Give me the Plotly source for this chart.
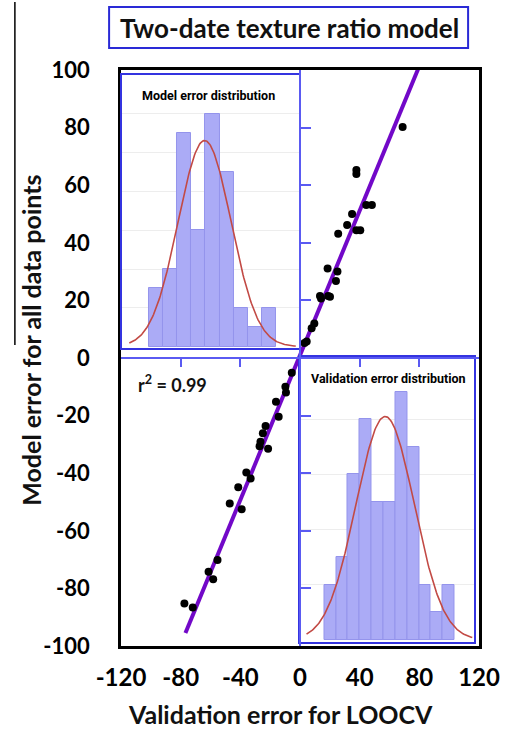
import numpy as np
import plotly.graph_objects as go

# ---------------- data ----------------
val_err = [68.8, 37.8, 37.8, 44.4, 48.2, 34.9, 31.6, 37.8, 40.4, 25.6, 18.5, 25.1, 24.1,
           13.4, 18.9, 20.1, 14.1, 9.6, 7.8, 4.5, 3.0,
           -5.5, -9.8, -9.4, -16.1, -14.3, -23.1, -24.9, -26.5, -27.1, -21.4, -36.0, -33.1,
           -41.4, -47.1, -39.1, -55.3, -61.3, -58.2, -77.5, -71.9]
model_err = [80.2, 65.3, 63.9, 53.1, 53.1, 50.0, 46.2, 44.4, 44.4, 43.1, 31.1, 30.0, 26.7,
             21.5, 21.5, 21.3, 20.7, 12.0, 10.3, 5.7, 5.2,
             -5.1, -10.0, -12.0, -15.2, -20.4, -23.6, -26.1, -29.1, -30.6, -31.5, -39.8, -41.8,
             -44.9, -50.5, -52.5, -70.1, -74.2, -76.8, -85.2, -86.6]
fit_x = [-76.8, 79.3]
fit_y = [-95.5, 100.5]
r2_text = "r<sup>2</sup> = 0.99"

model_bins = [0.5, 1.5, 2.5, 3.5, 4.5, 5.5, 6.5, 7.5, 8.5]
model_counts = [3, 4, 11, 6, 12, 9, 2, 1, 2]
valid_bins = [0.5, 1.5, 2.5, 3.5, 4.5, 5.5, 6.5, 7.5, 8.5, 9.5, 10.5]
valid_counts = [2, 3, 6, 8, 5, 5, 9, 7, 2, 1, 2]

x_ticks = [-120, -80, -40, 0, 40, 80, 120]
x_tick_labels = ["-120", "-80", "-40", "0", "40", "80", "120"]
y_ticks = [-100, -80, -60, -40, -20, 0, 20, 40, 60, 80, 100]
y_tick_labels = ["-100", "-80", "-60", "-40", "-20", "0", "20", "40", "60", "80", "100"]


def normal_fit(centers, counts, lo, hi):
    c = np.array(centers, float)
    n = np.array(counts, float)
    tot = n.sum()
    mu = (c * n).sum() / tot
    sd = np.sqrt(((c - mu) ** 2 * n).sum() / tot)
    xs = np.linspace(lo, hi, 200)
    ys = tot / (sd * np.sqrt(2 * np.pi)) * np.exp(-0.5 * ((xs - mu) / sd) ** 2)
    return xs, ys


# ---------------- geometry helpers ----------------
W, H = 512, 729
L, R, T, B = 121, 30, 70, 83
PW, PH = W - L - R, H - T - B


def fx(px):
    return (px - L) / PW


def fy(py):
    return (H - B - py) / PH


BLUE = "#3434e0"
AXBLUE = "#5a5af2"
BAR_FILL = "#ababf6"
BAR_LINE = "#9494ec"
RED = "#c24a45"
FONT = "Lato, 'Open Sans', sans-serif"
NARROW = "Roboto, 'Liberation Sans', sans-serif"

fig = go.Figure()

# main scatter + fit line
fig.add_trace(go.Scatter(x=fit_x, y=fit_y, mode="lines",
                         line=dict(color="#7208c8", width=4), xaxis="x", yaxis="y",
                         showlegend=False, hoverinfo="skip"))
fig.add_trace(go.Scatter(x=val_err, y=model_err, mode="markers",
                         marker=dict(color="black", size=8), xaxis="x", yaxis="y",
                         showlegend=False))

# inset 1: model error distribution
cx, cy = normal_fit(model_bins, model_counts, -1.4, 10.4)
fig.add_trace(go.Bar(x=model_bins, y=model_counts, width=1.0,
                     marker=dict(color=BAR_FILL, line=dict(color=BAR_LINE, width=1)),
                     xaxis="x2", yaxis="y2", showlegend=False))
fig.add_trace(go.Scatter(x=cx, y=cy, mode="lines", line=dict(color=RED, width=1.6),
                         xaxis="x2", yaxis="y2", showlegend=False, hoverinfo="skip"))

# inset 2: validation error distribution
vx, vy = normal_fit(valid_bins, valid_counts, -1.5, 12.5)
fig.add_trace(go.Bar(x=valid_bins, y=valid_counts, width=1.0,
                     marker=dict(color=BAR_FILL, line=dict(color=BAR_LINE, width=1)),
                     xaxis="x3", yaxis="y3", showlegend=False))
fig.add_trace(go.Scatter(x=vx, y=vy, mode="lines", line=dict(color=RED, width=1.6),
                         xaxis="x3", yaxis="y3", showlegend=False, hoverinfo="skip"))

# crossing axes carrier (invisible)
fig.add_trace(go.Scatter(x=[0], y=[0], mode="markers", marker=dict(opacity=0),
                         xaxis="x4", yaxis="y4", showlegend=False, hoverinfo="skip"))

fig.update_layout(
    width=W, height=H,
    margin=dict(l=L, r=R, t=T, b=B),
    paper_bgcolor="white",
    plot_bgcolor="rgba(0,0,0,0)",
    bargap=0,
    xaxis=dict(domain=[0, 1], range=[-120, 120], showline=True, mirror=True,
               linecolor="black", linewidth=2.5, ticks="", showgrid=False, zeroline=False,
               tickvals=x_ticks, ticktext=x_tick_labels,
               tickfont=dict(family=FONT, size=24, color="black", weight="bold"),
               ticklabelstandoff=8),
    yaxis=dict(domain=[0, 1], range=[-100, 100], showline=True, mirror=True,
               linecolor="black", linewidth=2.5, ticks="", showgrid=False, zeroline=False,
               tickvals=y_ticks, ticktext=y_tick_labels,
               tickfont=dict(family=FONT, size=22, color="black", weight="bold"),
               ticklabelstandoff=24),
    xaxis2=dict(domain=[fx(122), fx(300)], anchor="y2", range=[-1.92, 10.6],
                showline=True, mirror=True, linecolor=BLUE, linewidth=2.2,
                showticklabels=False, ticks="", showgrid=False, zeroline=False),
    yaxis2=dict(domain=[fy(348), fy(75)], anchor="x2", range=[-0.07, 14.0],
                showline=True, mirror=True, linecolor=BLUE, linewidth=2.2,
                showticklabels=False, ticks="", showgrid=True, gridcolor="#ededed",
                tickvals=[2, 4, 6, 8, 10, 12], zeroline=False),
    xaxis3=dict(domain=[fx(302), fx(477)], anchor="y3", range=[-2.01, 12.65],
                showline=True, mirror=True, linecolor=BLUE, linewidth=2.2,
                showticklabels=False, ticks="", showgrid=False, zeroline=False),
    yaxis3=dict(domain=[fy(642), fy(357)], anchor="x3", range=[-0.07, 10.25],
                showline=True, mirror=True, linecolor=BLUE, linewidth=2.2,
                showticklabels=False, ticks="", showgrid=True, gridcolor="#ededed",
                tickvals=[2, 4, 6, 8], zeroline=False),
    xaxis4=dict(domain=[0, 1], range=[-120, 120], anchor="free", position=0.5,
                showline=True, linecolor=AXBLUE, linewidth=1.5, ticks="outside",
                ticklen=8, tickwidth=1.5, tickcolor=AXBLUE, tickvals=[-80, -40, 40, 80],
                showticklabels=False, showgrid=False, zeroline=False),
    yaxis4=dict(domain=[0, 1], range=[-100, 100], anchor="free", position=0.5,
                side="right", showline=True, linecolor=AXBLUE, linewidth=1.5,
                ticks="outside", ticklen=10, tickwidth=1.5, tickcolor=AXBLUE,
                tickvals=[-80, -60, -40, -20, 20, 40, 60, 80],
                showticklabels=False, showgrid=False, zeroline=False),
)

annotations = [
    dict(text="Two-date texture ratio model", x=fx(291), y=fy(28), xref="paper",
         yref="paper", showarrow=False, xanchor="center", yanchor="middle",
         font=dict(family=FONT, size=26, color="#111111", weight="bold")),
    dict(text="Model error distribution", x=fx(209), y=fy(95), xref="paper", yref="paper",
         showarrow=False, xanchor="center", yanchor="middle",
         font=dict(family=NARROW, size=12.5, color="black", weight="bold")),
    dict(text="Validation error distribution", x=fx(391), y=fy(378), xref="paper",
         yref="paper", showarrow=False, xanchor="center", yanchor="middle",
         font=dict(family=NARROW, size=12.5, color="black", weight="bold")),
    dict(text=r2_text, x=fx(136), y=fy(384), xref="paper", yref="paper",
         showarrow=False, xanchor="left", yanchor="middle",
         font=dict(family=FONT, size=18, color="#111111", weight="bold")),
    dict(text="Validation error for LOOCV", x=fx(282), y=fy(714), xref="paper",
         yref="paper", showarrow=False, xanchor="center", yanchor="middle",
         font=dict(family=FONT, size=25, color="#111111", weight="bold")),
    dict(text="Model error for all data points", x=fx(30), y=fy(340), xref="paper",
         yref="paper", showarrow=False, xanchor="center", yanchor="middle", textangle=-90,
         font=dict(family=FONT, size=25, color="#111111", weight="bold")),
]
fig.update_layout(annotations=annotations)

shapes = [
    dict(type="rect", xref="paper", yref="paper", x0=fx(109), x1=fx(471),
         y0=fy(48), y1=fy(7), line=dict(color="#2a2ad6", width=2)),
    dict(type="line", xref="paper", yref="paper", x0=fx(14), x1=fx(14),
         y0=fy(2), y1=fy(345), line=dict(color="black", width=1.5)),
]
fig.update_layout(shapes=shapes)

fig.write_html("out.html")
